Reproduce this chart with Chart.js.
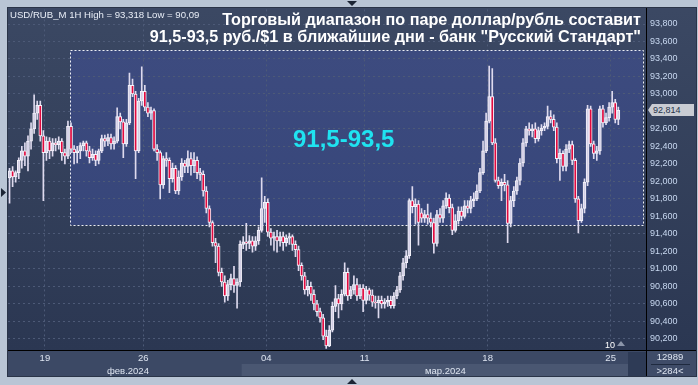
<!DOCTYPE html>
<html>
<head>
<meta charset="utf-8">
<script src="https://cdn.jsdelivr.net/npm/chart.js@4.4.1/dist/chart.umd.min.js"></script>
<style>
  body { margin: 0; background: #b9c5d5; }
  #wrap { position: relative; width: 698px; height: 385px; overflow: hidden; font-family: 'Liberation Sans', Arial, sans-serif; }
  #wrap canvas { position: absolute; left: 0; top: 0; }
  .t { position: absolute; white-space: nowrap; }
</style>
</head>
<body>
<div id="wrap">
  <canvas id="chart" width="698" height="385"></canvas>
  <div class="t" style="left:10px;top:10px;font-size:9.6px;line-height:9px;color:#e9eef7">USD/RUB_M 1H High = 93,318 Low = 90,09</div>
  <div class="t" style="right:57px;top:11px;font-weight:bold;font-size:16.2px;line-height:17px;color:#fff;text-align:right">Торговый диапазон по паре доллар/рубль составит<br>91,5-93,5 руб./$1 в ближайшие дни - банк "Русский Стандарт"</div>
  <div class="t" style="left:293px;top:127px;font-weight:bold;font-size:24px;line-height:24px;color:#1fe3f0">91,5-93,5</div>
  <div class="t" style="left:107px;top:366px;font-size:9.5px;line-height:9px;color:#dde4f0">фев.2024</div>
  <div class="t" style="left:425px;top:366px;font-size:9.5px;line-height:9px;color:#dde4f0">мар.2024</div>
  <div class="t" style="left:605px;top:341px;font-size:9px;line-height:9px;color:#fff">10</div>
  <div class="t" style="left:617px;top:341px;width:0;height:0;border-left:4px solid transparent;border-right:4px solid transparent;border-bottom:5px solid #8b95a9"></div>
  <div class="t" style="left:646px;top:352px;width:48px;text-align:center;font-size:9.5px;line-height:10px;color:#dde4f0">12989</div>
  <div class="t" style="left:651px;top:364px;width:39px;height:1px;background:#1f2a3f"></div>
  <div class="t" style="left:646px;top:366px;width:48px;text-align:center;font-size:9.5px;line-height:10px;color:#dde4f0">&gt;284&lt;</div>
  <div class="t" id="tag" style="left:648px;top:104px;width:46px;height:12px;background:#c9ccd3;clip-path:polygon(0 50%,4px 0,100% 0,100% 100%,4px 100%);font-size:9px;line-height:12px;color:#26344c;padding-left:5px;box-sizing:border-box">92,814</div>
</div>
<script>
// USD/RUB_M, 1H candles, 15 Feb - 25 Mar 2024
const open = [
  92.04, 92.12, 92.05, 92.10, 92.24, 92.35, 92.29, 92.46, 92.60, 92.78,
  92.87, 92.52, 92.33, 92.46, 92.35, 92.44, 92.42, 92.46, 92.33, 92.29,
  92.63, 92.37, 92.33, 92.35, 92.41, 92.44, 92.35, 92.27, 92.31, 92.24,
  92.35, 92.49, 92.46, 92.50, 92.43, 92.46, 92.74, 92.68, 92.43, 92.67,
  93.10, 93.00, 92.35, 92.92, 93.03, 92.85, 92.78, 92.81, 92.37, 92.33,
  91.96, 92.26, 92.24, 92.03, 92.15, 91.89, 92.05, 92.21, 92.17, 92.26,
  92.18, 92.24, 92.10, 92.08, 91.89, 91.69, 91.53, 91.30, 91.26, 90.96,
  90.85, 90.69, 90.82, 90.89, 90.81, 90.85, 91.28, 91.31, 91.29, 91.32,
  91.26, 91.32, 91.44, 91.69, 91.76, 91.42, 91.35, 91.37, 91.32, 91.37,
  91.30, 91.35, 91.37, 91.28, 91.22, 91.04, 90.92, 90.76, 90.80, 90.71,
  90.60, 90.51, 90.44, 90.23, 90.12, 90.30, 90.57, 90.66, 90.60, 90.71,
  90.96, 90.69, 90.76, 90.82, 90.69, 90.78, 90.64, 90.76, 90.70, 90.62,
  90.61, 90.64, 90.60, 90.62, 90.64, 90.58, 90.69, 90.76, 90.92, 91.07,
  91.15, 91.78, 91.71, 91.74, 91.64, 91.58, 91.62, 91.58, 91.53, 91.29,
  91.62, 91.58, 91.72, 91.81, 91.70, 91.44, 91.55, 91.66, 91.60, 91.72,
  91.69, 91.78, 91.80, 91.89, 92.10, 92.35, 92.69, 92.97, 92.44, 92.01,
  91.95, 91.99, 91.96, 91.52, 91.78, 91.89, 92.01, 92.21, 92.44, 92.60,
  92.58, 92.60, 92.49, 92.58, 92.61, 92.63, 92.74, 92.71, 92.62, 92.26,
  92.32, 92.17, 92.37, 92.42, 92.24, 91.80, 91.55, 91.69, 91.99, 92.83,
  92.43, 92.32, 92.35, 92.83, 92.67, 92.73, 92.85, 92.90, 92.71
];
const high = [
  92.15, 92.17, 92.12, 92.27, 92.40, 92.44, 92.52, 92.67, 92.99, 92.92,
  92.92, 92.58, 92.51, 92.50, 92.49, 92.49, 92.51, 92.49, 92.37, 92.69,
  92.67, 92.41, 92.40, 92.44, 92.46, 92.46, 92.40, 92.37, 92.35, 92.37,
  92.53, 92.53, 92.54, 92.54, 92.51, 92.84, 92.78, 92.71, 92.71, 93.24,
  93.17, 93.03, 92.95, 93.31, 93.10, 92.90, 92.85, 92.83, 92.42, 92.35,
  92.29, 92.33, 92.27, 92.21, 92.18, 92.12, 92.26, 92.24, 92.35, 92.33,
  92.33, 92.28, 92.15, 92.12, 91.94, 91.72, 91.55, 91.35, 91.29, 91.01,
  90.92, 90.87, 90.94, 91.03, 90.89, 91.32, 91.37, 91.52, 91.38, 91.37,
  91.37, 91.48, 92.04, 91.83, 91.80, 91.46, 91.42, 91.44, 91.42, 91.42,
  91.39, 91.41, 91.39, 91.32, 91.26, 91.07, 90.96, 90.87, 90.85, 90.76,
  90.64, 90.55, 90.48, 90.30, 90.35, 90.62, 90.81, 90.71, 90.76, 91.07,
  91.01, 90.80, 90.92, 90.89, 90.82, 90.82, 90.80, 90.78, 90.76, 90.69,
  90.69, 90.69, 90.66, 90.69, 90.69, 90.73, 90.80, 90.96, 91.12, 91.21,
  91.80, 91.94, 91.80, 91.78, 91.69, 91.67, 91.74, 91.64, 91.58, 91.67,
  91.69, 91.78, 91.87, 91.85, 91.74, 91.62, 91.71, 91.71, 91.78, 91.78,
  91.83, 91.87, 91.96, 92.15, 92.46, 92.78, 93.318, 93.29, 92.49, 92.05,
  92.03, 92.08, 92.01, 91.83, 91.94, 92.05, 92.26, 92.49, 92.63, 92.67,
  92.65, 92.67, 92.62, 92.65, 92.67, 92.86, 92.81, 92.76, 92.67, 92.37,
  92.35, 92.42, 92.46, 92.46, 92.26, 91.83, 91.74, 92.03, 92.87, 92.86,
  92.46, 92.40, 92.86, 92.87, 92.78, 92.90, 93.03, 92.94, 92.85
];
const low = [
  91.75, 91.94, 91.99, 92.03, 92.15, 92.18, 92.12, 92.37, 92.55, 92.71,
  92.46, 91.78, 92.24, 92.26, 92.29, 92.35, 92.37, 92.24, 92.20, 92.26,
  92.33, 92.20, 92.21, 92.26, 92.35, 92.29, 92.21, 92.24, 92.18, 92.20,
  92.33, 92.40, 92.41, 92.37, 92.37, 92.44, 92.60, 92.27, 92.40, 92.65,
  92.97, 92.03, 92.33, 92.87, 92.81, 92.74, 92.71, 92.35, 92.24, 91.80,
  91.92, 92.17, 91.87, 91.99, 91.86, 91.85, 92.01, 92.10, 92.10, 92.07,
  92.10, 92.03, 92.01, 91.83, 91.64, 91.48, 91.26, 91.07, 90.92, 90.80,
  90.62, 90.64, 90.76, 90.73, 90.55, 90.80, 91.23, 91.21, 91.23, 91.19,
  91.21, 91.28, 91.42, 91.53, 91.37, 91.27, 91.21, 91.19, 91.26, 91.21,
  91.26, 91.28, 91.21, 91.14, 90.98, 90.87, 90.71, 90.69, 90.64, 90.53,
  90.46, 90.39, 90.19, 90.09, 90.11, 90.28, 90.51, 90.44, 90.53, 90.69,
  90.64, 90.66, 90.71, 90.64, 90.66, 90.51, 90.60, 90.64, 90.57, 90.55,
  90.44, 90.55, 90.55, 90.57, 90.55, 90.55, 90.66, 90.73, 90.87, 91.01,
  91.12, 91.64, 91.51, 91.27, 91.53, 91.53, 91.51, 91.48, 91.18, 91.26,
  91.53, 91.53, 91.69, 91.64, 91.39, 91.42, 91.51, 91.55, 91.58, 91.64,
  91.64, 91.71, 91.78, 91.87, 92.08, 92.33, 92.67, 92.42, 91.99, 91.92,
  91.78, 91.89, 91.30, 91.48, 91.71, 91.85, 91.96, 92.17, 92.40, 92.53,
  92.51, 92.44, 92.46, 92.53, 92.58, 92.60, 92.67, 92.58, 92.21, 92.01,
  92.12, 92.12, 92.33, 92.19, 91.76, 91.41, 91.53, 91.64, 91.95, 92.40,
  92.26, 92.24, 92.31, 92.62, 92.65, 92.69, 92.78, 92.67, 92.65
];
const close = [
  92.12, 92.05, 92.10, 92.24, 92.35, 92.29, 92.46, 92.60, 92.78, 92.87,
  92.52, 92.33, 92.46, 92.35, 92.44, 92.42, 92.46, 92.33, 92.29, 92.63,
  92.37, 92.33, 92.35, 92.41, 92.44, 92.35, 92.27, 92.31, 92.24, 92.35,
  92.49, 92.46, 92.50, 92.43, 92.46, 92.74, 92.68, 92.43, 92.67, 93.10,
  93.00, 92.35, 92.92, 93.03, 92.85, 92.78, 92.81, 92.37, 92.33, 91.96,
  92.26, 92.24, 92.03, 92.15, 91.89, 92.05, 92.21, 92.17, 92.26, 92.18,
  92.24, 92.10, 92.08, 91.89, 91.69, 91.53, 91.30, 91.26, 90.96, 90.85,
  90.69, 90.82, 90.89, 90.81, 90.85, 91.28, 91.31, 91.29, 91.32, 91.26,
  91.32, 91.44, 91.69, 91.76, 91.42, 91.35, 91.37, 91.32, 91.37, 91.30,
  91.35, 91.37, 91.28, 91.22, 91.04, 90.92, 90.76, 90.80, 90.71, 90.60,
  90.51, 90.44, 90.23, 90.12, 90.30, 90.57, 90.66, 90.60, 90.71, 90.96,
  90.69, 90.76, 90.82, 90.69, 90.78, 90.64, 90.76, 90.70, 90.62, 90.61,
  90.64, 90.60, 90.62, 90.64, 90.58, 90.69, 90.76, 90.92, 91.07, 91.15,
  91.78, 91.71, 91.74, 91.53, 91.58, 91.62, 91.58, 91.53, 91.29, 91.62,
  91.58, 91.72, 91.81, 91.70, 91.44, 91.55, 91.66, 91.60, 91.72, 91.69,
  91.78, 91.80, 91.89, 92.10, 92.35, 92.69, 92.97, 92.44, 92.01, 91.95,
  91.99, 91.96, 91.52, 91.78, 91.89, 92.01, 92.21, 92.44, 92.60, 92.58,
  92.60, 92.49, 92.58, 92.61, 92.63, 92.74, 92.71, 92.62, 92.26, 92.32,
  92.17, 92.37, 92.42, 92.24, 91.80, 91.55, 91.69, 91.99, 92.83, 92.43,
  92.32, 92.35, 92.83, 92.67, 92.73, 92.85, 92.90, 92.71, 92.814
];

// day starts (in candle index units) and their labels
const dayTicks = [11.5, 43.5, 83.5, 115.5, 155.5, 195.5];
const dayLabels = ['19', '26', '04', '11', '18', '25'];
const marchStart = 75.5;
const priceTicks = [90.2, 90.4, 90.6, 90.8, 91.0, 91.2, 91.4, 91.6, 91.8, 92.0,
                    92.2, 92.4, 92.6, 92.8, 93.0, 93.2, 93.4, 93.6, 93.8];

// forecast range box
const rangeLow = 91.5;
const rangeHigh = 93.5;
const rangeFrom = 19.7;
const rangeTo = 206.0;

const idx = close.map((c, i) => i);
const bodies = idx.map(i => ({ x: i, y: [open[i], close[i]] }));
const wicks = idx.map(i => ({ x: i, y: [low[i], high[i]] }));
const bodyColors = idx.map(i => close[i] < open[i] ? '#e2093e' : '#d3cfe6');

const framePlugin = {
  id: 'frame',
  beforeDraw(chart) {
    const { ctx, chartArea: a, scales: { x, y } } = chart;
    ctx.save();
    ctx.fillStyle = '#b9c5d5';
    ctx.fillRect(0, 0, chart.width, chart.height);
    ctx.fillStyle = '#3c4965';
    ctx.fillRect(7, 7, 690, 370);

    const g = ctx.createLinearGradient(0, a.top, 0, a.bottom);
    g.addColorStop(0, '#3b4863');
    g.addColorStop(1, '#2b3752');
    ctx.fillStyle = g;
    ctx.fillRect(a.left, a.top, 697 - a.left, a.bottom - a.top);

    const l = x.getPixelForValue(rangeFrom), r = x.getPixelForValue(rangeTo);
    const t = y.getPixelForValue(rangeHigh), b = y.getPixelForValue(rangeLow);
    const g2 = ctx.createLinearGradient(0, t, 0, b);
    g2.addColorStop(0, '#3d4b7f');
    g2.addColorStop(1, '#37467a');
    ctx.fillStyle = g2;
    ctx.fillRect(l, t, r - l, b - t);

    // month row: march cell lighter, scroll strip dark
    ctx.fillStyle = '#4a5772';
    const ms = x.getPixelForValue(marchStart);
    ctx.fillRect(ms, a.bottom + 14, 628 - ms, 13);
    ctx.fillStyle = '#2e3b56';
    ctx.fillRect(628, a.bottom + 2, 18, 25);
    ctx.fillStyle = '#3f4c68';
    ctx.fillRect(a.right, a.bottom, 50, 27);
    ctx.restore();
  },
  beforeDatasetsDraw(chart) {
    const { ctx, scales: { x, y } } = chart;
    const l = Math.round(x.getPixelForValue(rangeFrom)) + 0.5;
    const r = Math.round(x.getPixelForValue(rangeTo)) + 0.5;
    const t = Math.round(y.getPixelForValue(rangeHigh)) + 0.5;
    const b = Math.round(y.getPixelForValue(rangeLow)) + 0.5;
    ctx.save();
    ctx.strokeStyle = '#eef0f6';
    ctx.lineWidth = 1;
    ctx.setLineDash([2, 2]);
    ctx.strokeRect(l, t, r - l, b - t);
    ctx.restore();
  },
  afterDraw(chart) {
    const { ctx, chartArea: a } = chart;
    ctx.save();
    ctx.strokeStyle = '#000';
    ctx.lineWidth = 1;
    ctx.beginPath();
    ctx.moveTo(a.right + 0.5, 7); ctx.lineTo(a.right + 0.5, 377);
    ctx.moveTo(7, a.bottom + 0.5); ctx.lineTo(697, a.bottom + 0.5);
    ctx.stroke();
    ctx.strokeStyle = '#2a3448';
    ctx.strokeRect(7.5, 7.5, 689, 369);
    ctx.fillStyle = '#1c2535';
    ctx.beginPath();
    ctx.moveTo(347, 1); ctx.lineTo(357, 1); ctx.lineTo(352, 6); ctx.closePath();
    ctx.moveTo(347, 384); ctx.lineTo(357, 384); ctx.lineTo(352, 379); ctx.closePath();
    ctx.moveTo(1, 188); ctx.lineTo(1, 197); ctx.lineTo(6, 192.5); ctx.closePath();
    ctx.fill();
    ctx.restore();
  }
};

Chart.defaults.font.family = "'Liberation Sans', Arial, sans-serif";

const chart = new Chart(document.getElementById('chart'), {
  type: 'bar',
  data: {
    datasets: [
      {
        data: bodies,
        backgroundColor: bodyColors,
        borderColor: '#f4f2fa',
        borderWidth: 1,
        borderSkipped: false,
        barThickness: 3,
        grouped: false,
        order: 0
      },
      {
        data: wicks,
        backgroundColor: '#dedaee',
        borderWidth: 0,
        barThickness: 1,
        grouped: false,
        order: 1
      }
    ]
  },
  options: {
    responsive: false,
    animation: false,
    devicePixelRatio: 1,
    layout: { padding: { left: 8, top: 8, right: 4, bottom: 9 } },
    plugins: { legend: { display: false }, tooltip: { enabled: false } },
    scales: {
      x: {
        type: 'linear',
        offset: false,
        min: -0.5,
        max: 207,
        afterBuildTicks: s => { s.ticks = dayTicks.map(v => ({ value: v })); },
        afterFit: s => { s.height = 26; },
        grid: { color: '#4d5a77', drawTicks: false, offset: false },
        border: { display: false, dash: [2, 3] },
        ticks: {
          autoSkip: false,
          maxRotation: 0,
          padding: 3,
          color: '#dde4f0',
          font: { size: 9.5 },
          callback: (v, i) => dayLabels[i]
        }
      },
      y: {
        position: 'right',
        min: 90.072,
        max: 93.967,
        afterBuildTicks: s => { s.ticks = priceTicks.map(v => ({ value: v })); },
        afterFit: s => { s.width = 48; },
        grid: { color: '#4d5a77', drawTicks: false },
        border: { display: false, dash: [2, 3] },
        ticks: {
          padding: 4,
          color: '#c8d8f0',
          font: { size: 9 },
          callback: v => v.toFixed(3).replace('.', ',')
        }
      }
    }
  },
  plugins: [framePlugin]
});

const tagY = chart.scales.y.getPixelForValue(close[close.length - 1]);
document.getElementById('tag').style.top = Math.round(tagY - 6) + 'px';
</script>
</body>
</html>
